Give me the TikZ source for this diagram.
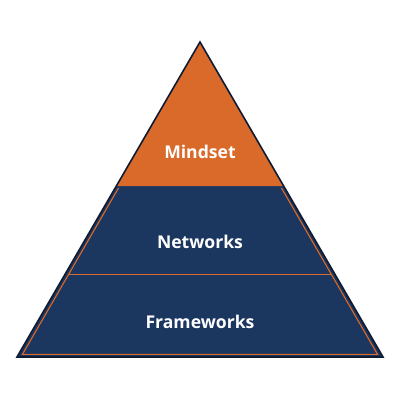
\documentclass[tikz,border=0pt]{standalone}
\usepackage{fontspec}
\setmainfont{Open Sans}
\usepackage{tikz}
\definecolor{navy}{HTML}{1B365F}
\definecolor{rust}{HTML}{DA6A2A}
\definecolor{edge}{HTML}{0E1B33}
\tikzset{tier/.style={text=white,font=\fontsize{17.6}{20}\selectfont\bfseries}}

\begin{document}
\begin{tikzpicture}[x=1pt,y=-1pt]
    \useasboundingbox (0,0) rectangle (400,400);
    \coordinate (top) at (200,42);
    \coordinate (bl) at (17,357);
    \coordinate (br) at (383,357);
    \fill[navy] (top)--(bl)--(br)--cycle;
    \fill[rust] (top)--(116.3,186)--(283.7,186)--cycle;
    \draw[rust,line width=1.1pt] (118.5,188)--(22.5,354.3)--(377.5,354.3)--(281.5,188);
    \draw[rust,line width=1pt] (68.5,274)--(331.5,274);
    \draw[edge,line width=1.6pt,line join=miter] (top)--(bl)--(br)--cycle;
    \node[tier] (mind) at (200,152) {Mindset};
    \node[tier] (net) at (200,242) {Networks};
    \node[tier] (frame) at (200,322) {Frameworks};
  \end{tikzpicture}
\end{document}
